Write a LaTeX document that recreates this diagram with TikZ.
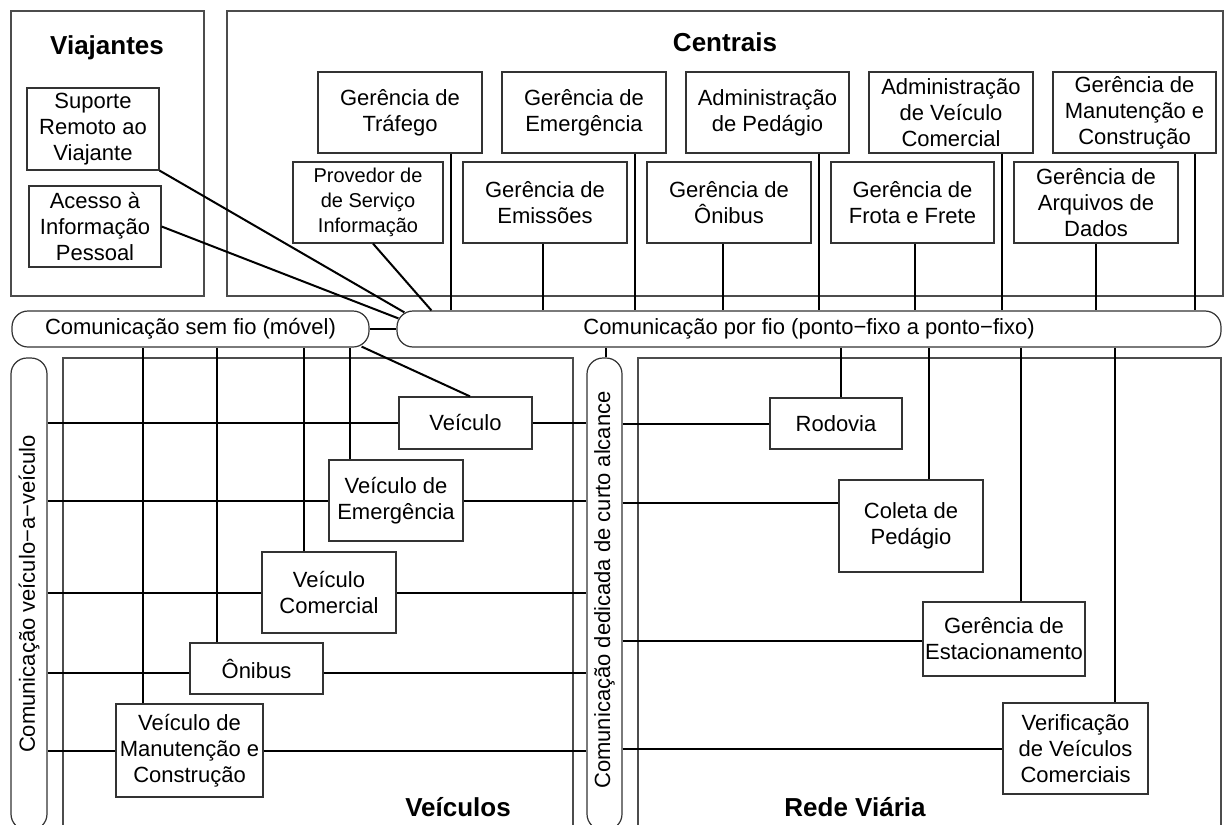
\documentclass[tikz,border=0pt]{standalone}
\usepackage{fontspec}
\setmainfont{Liberation Sans}
\usetikzlibrary{calc}
\newcommand{\boxfont}{\fontsize{16.5}{19.5}\selectfont}
\newcommand{\smallboxfont}{\fontsize{15}{18.8}\selectfont}
\newcommand{\titlefont}{\fontsize{19.5}{23}\selectfont\bfseries}

\begin{document}
\begin{tikzpicture}[x=0.75pt,y=-0.75pt,
  frame/.style={draw=black!70, line width=1pt},
  bx/.style={draw=black!80, line width=0.9pt, fill=white, align=center, inner sep=0pt, font=\boxfont},
  sz/.style 2 args={minimum width=#1*0.75pt, minimum height=#2*0.75pt},
  bar/.style={draw=black!80, line width=0.9pt, fill=white, rounded corners=12pt, inner sep=0pt, font=\boxfont},
  link/.style={draw=black, line width=1.5pt},
  title/.style={font=\titlefont, anchor=base}
]
\useasboundingbox (0,0) rectangle (1226,824);
\fill[white] (0,0) rectangle (1226,824);
\clip (0,0) rectangle (1226,824);

% domain frames
\draw[frame] (11,11) rectangle (204,296);
\draw[frame] (227,11) rectangle (1223,296);
\draw[frame] (63,358) rectangle (573,840);
\draw[frame] (638,358) rectangle (1221,840);

\node[title] (tvia) at (107,55) {Viajantes};
\node[title] (tcen) at (725,52) {Centrais};
\node[title] (tveh) at (458,816) {Veículos};
\node[title] (trede) at (855,816) {Rede Viária};

% travellers
\node[bx, sz={132}{82}] (sup) at (93,129) {Suporte\\Remoto ao\\Viajante};
\node[bx, sz={132}{81}] (acc) at (95,226.5) {Acesso à\\Informação\\Pessoal};

% centres, upper row
\node[bx, sz={164}{81}] (traf) at (400,112.5) {Gerência de\\Tráfego};
\node[bx, sz={164}{81}] (emerg) at (584,112.5) {Gerência de\\Emergência};
\node[bx, sz={163}{81}] (pedag) at (767.5,112.5) {Administração\\de Pedágio};
\node[bx, sz={164}{81}] (avc) at (951,112.5) {Administração\\de Veículo\\Comercial};
\node[bx, sz={163}{81}] (gmc) at (1134.5,112.5) {Gerência de\\Manutenção e\\Construção};

% centres, lower row
\node[bx, sz={150}{81}, font=\smallboxfont] (prov) at (368,202.5) {Provedor de\\de Serviço\\Informação};
\node[bx, sz={164}{81}] (emiss) at (545,202.5) {Gerência de\\Emissões};
\node[bx, sz={164}{81}] (gonib) at (729,202.5) {Gerência de\\Ônibus};
\node[bx, sz={163}{81}] (frota) at (912.5,202.5) {Gerência de\\Frota e Frete};
\node[bx, sz={164}{81}] (arq) at (1096,202.5) {Gerência de\\Arquivos de\\Dados};

% communication bars
\node[bar, sz={357}{36}] (semfio) at (190.5,329) {Comunicação sem fio (móvel)};
\node[bar, sz={824}{36}] (wired) at (809,329) {Comunicação por fio (ponto−fixo a ponto−fixo)};
\node[bar, sz={36}{472}] (v2v) at (29,594) {};
\node[bar, sz={35}{472}] (dsrc) at (604.5,594) {};
\node[rotate=90, font=\boxfont] (v2vtext) at (v2v.center) {Comunicação veículo−a−veículo};
\node[rotate=90, font=\boxfont] (dsrctext) at ($(dsrc.center)+(0,-4)$) {Comunicação dedicada de curto alcance};

% vehicles
\node[bx, sz={133}{52}] (veh) at (465.5,423) {Veículo};
\node[bx, sz={134}{81}] (vemerg) at (396,500.5) {Veículo de\\Emergência};
\node[bx, sz={134}{81}] (vcom) at (329,592.5) {Veículo\\Comercial};
\node[bx, sz={133}{51}] (onib) at (256.5,668.5) {Ônibus};
\node[bx, sz={147}{93}] (vman) at (189.5,750.5) {Veículo de\\Manutenção e\\Construção};

% roadside
\node[bx, sz={132}{51}] (rod) at (836,423.5) {Rodovia};
\node[bx, sz={144}{92}] (coleta) at (911,526) {Coleta de\\Pedágio};
\node[bx, sz={162}{74}] (estac) at (1004,639) {Gerência de\\Estacionamento};
\node[bx, sz={145}{91}] (verif) at (1075.5,748.5) {Verificação\\de Veículos\\Comerciais};

% travellers and information provider to the wired link
\draw[link] (sup.south east) -- ($(wired.north west)+(8,2)$);
\draw[link] (acc.east) -- ($(wired.north west)+(2,8)$);
\draw[link] ($(prov.south)+(5,0)$) -- ($(wired.north west)+(35,0)$);

% centres to the wired link
\foreach \n/\dx in {traf/51, emerg/51, pedag/51.5, avc/51, gmc/60.5, emiss/-2, gonib/-6, frota/2.5, arq/0} {
  \coordinate (\n-tap) at ($(\n.south)+(\dx,0)$);
  \draw[link] (\n-tap) -- (\n-tap |- wired.north);
}

% links between bars
\draw[link] (semfio.east) -- (wired.west);
\coordinate (dtap) at ($(dsrc.north)+(1.5,0)$);
\draw[link] (dtap) -- (dtap |- wired.south);
\draw[link] ($(semfio.south east)+(-8,-1)$) -- ($(veh.north)+(4.5,0)$);

% wireless link to vehicles
\foreach \n/\dx in {vman/-46.5, onib/-39.5, vcom/-25, vemerg/-46} {
  \coordinate (\n-tap) at ($(\n.north)+(\dx,0)$);
  \draw[link] (\n-tap) -- (\n-tap |- semfio.south);
}

% wired link to roadside
\foreach \n/\dx in {rod/5, coleta/18, estac/17, verif/39.5} {
  \coordinate (\n-tap) at ($(\n.north)+(\dx,0)$);
  \draw[link] (\n-tap) -- (\n-tap |- wired.south);
}

% vehicle-to-vehicle and short range rows
\foreach \n/\dy in {veh/0, vemerg/0, vcom/0, onib/4, vman/0} {
  \coordinate (\n-row) at ($(\n.west)+(0,\dy)$);
  \coordinate (\n-rowe) at ($(\n.east)+(0,\dy)$);
  \draw[link] (v2v.east |- \n-row) -- (\n-row);
  \draw[link] (\n-rowe) -- (dsrc.west |- \n-rowe);
}

% short range to roadside
\foreach \n/\dy in {rod/0, coleta/-23, estac/2, verif/0} {
  \coordinate (\n-row) at ($(\n.west)+(0,\dy)$);
  \draw[link] (dsrc.east |- \n-row) -- (\n-row);
}
\end{tikzpicture}
\end{document}
